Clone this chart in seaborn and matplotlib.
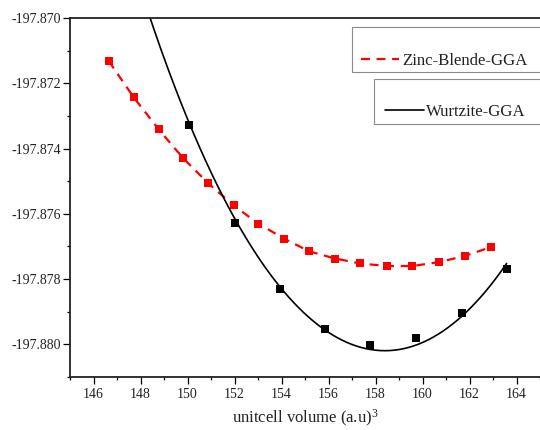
import matplotlib
matplotlib.use("Agg")
import matplotlib.pyplot as plt
from matplotlib.patches import Rectangle
from matplotlib.ticker import FixedLocator, FormatStrFormatter
import seaborn as sns
import numpy as np
import pandas as pd

# Zinc-blende GGA total energies
zb_volume = [146.65, 147.71, 148.77, 149.82, 150.89, 151.96, 153.01, 154.11,
             155.18, 156.28, 157.34, 158.48, 159.57, 160.70, 161.81, 162.91]
zb_energy = [-197.87132, -197.87243, -197.87341, -197.87430, -197.87507,
             -197.87574, -197.87630, -197.87676, -197.87715, -197.87737,
             -197.87752, -197.87760, -197.87760, -197.87748, -197.87729,
             -197.87702]

# Wurtzite GGA total energies
wz_volume = [150.05, 152.02, 153.94, 155.85, 157.77, 159.72, 161.67, 163.58]
wz_energy = [-197.87329, -197.87629, -197.87831, -197.87954, -197.88001,
             -197.87979, -197.87903, -197.87770]

# Equation-of-state curve for wurtzite (sampled along the fitted curve)
wz_fit_volume = [148.37, 148.83, 149.40, 150.08, 150.82, 151.52, 152.09, 152.94,
                 153.94, 154.79, 155.85, 156.77, 157.77, 158.48, 159.33, 160.32,
                 161.67, 162.73, 163.58]
wz_fit_energy = [-197.87001, -197.87083, -197.87185, -197.87328, -197.87451,
                 -197.87548, -197.87625, -197.87727, -197.87827, -197.87890,
                 -197.87954, -197.87993, -197.88013, -197.88018, -197.88013,
                 -197.87988, -197.87911, -197.87834, -197.87752]

x_major = [146, 148, 150, 152, 154, 156, 158, 160, 162, 164]
x_minor = [145, 147, 149, 151, 153, 155, 157, 159, 161, 163, 165]
y_major = [-197.880, -197.878, -197.876, -197.874, -197.872, -197.870]
y_minor = [-197.881, -197.879, -197.877, -197.875, -197.873, -197.871]

zb = pd.DataFrame({"volume": zb_volume, "energy": zb_energy})
wz = pd.DataFrame({"volume": wz_volume, "energy": wz_energy})

# Smooth the sampled EOS curve with a low-order polynomial
v_arr = np.asarray(wz_fit_volume)
e_arr = np.asarray(wz_fit_energy)
v0 = v_arr.mean()
coef = np.polyfit(v_arr - v0, e_arr + 197.88, 4)
v_dense = np.linspace(v_arr[0] - 0.1, v_arr[-1], 300)
wz_fit = pd.DataFrame({"volume": v_dense,
                       "energy": np.polyval(coef, v_dense - v0) - 197.88})

sns.set_theme(style="ticks")
plt.rcParams["font.family"] = ["Liberation Serif", "DejaVu Serif"]
plt.rcParams["mathtext.fontset"] = "custom"
plt.rcParams["mathtext.rm"] = "Liberation Serif"
plt.rcParams["mathtext.it"] = "Liberation Serif:italic"

W, H = 540, 430
fig = plt.figure(figsize=(W / 100, H / 100), dpi=100)
ax = fig.add_axes([70 / W, 1 - 377 / H, 470 / W, 359 / H])

sns.lineplot(data=zb, x="volume", y="energy", ax=ax, color="#ff0000",
             linewidth=1.6, linestyle=(0, (4, 3)), estimator=None,
             label="Zinc-Blende-GGA", zorder=2)
sns.scatterplot(data=zb, x="volume", y="energy", ax=ax, color="#ff0000",
                marker="s", s=38, linewidth=0, legend=False, zorder=3)

sns.lineplot(data=wz_fit, x="volume", y="energy", ax=ax, color="black",
             linewidth=1.2, estimator=None, sort=False,
             label="Wurtzite-GGA", zorder=2)
sns.scatterplot(data=wz, x="volume", y="energy", ax=ax, color="black",
                marker="s", s=38, linewidth=0, legend=False, zorder=3)

ax.set_xlim(145, 165)
ax.set_ylim(-197.881, -197.870)

ax.xaxis.set_major_locator(FixedLocator(x_major))
ax.xaxis.set_minor_locator(FixedLocator(x_minor))
ax.yaxis.set_major_locator(FixedLocator(y_major))
ax.yaxis.set_minor_locator(FixedLocator(y_minor))
ax.yaxis.set_major_formatter(FormatStrFormatter("%.3f"))
ax.xaxis.set_major_formatter(FormatStrFormatter("%d"))

ax.tick_params(axis="both", which="major", direction="out", length=4.8,
               width=0.9, labelsize=10, color="black", labelcolor="#222222")
ax.tick_params(axis="both", which="minor", direction="out", length=2.4,
               width=0.9, color="black")
ax.tick_params(axis="y", which="major", pad=1.5)
ax.tick_params(axis="x", which="major", pad=3)

for side in ("left", "bottom", "top"):
    ax.spines[side].set_visible(True)
    ax.spines[side].set_linewidth(1.3)
    ax.spines[side].set_color("#222222")
ax.spines["right"].set_visible(False)

ax.set_ylabel("")
ax.set_xlabel("unitcell volume (a.u)$^{3}$", fontsize=12, color="#222222",
              labelpad=5)

# Two separate legend boxes, one per structure
ax.get_legend().remove()
line_zb, line_wz = ax.lines[0], ax.lines[1]

common = dict(loc="center left", fontsize=12.1, frameon=False,
              handlelength=2.3, handletextpad=0.15, borderpad=0,
              borderaxespad=0, bbox_transform=fig.transFigure)

leg1 = ax.legend([line_zb], ["Zinc-Blende-GGA"],
                 bbox_to_anchor=(360.7 / W, 1 - 61 / H), **common)
leg1.set_zorder(6)
ax.add_artist(leg1)
leg2 = ax.legend([line_wz], ["Wurtzite-GGA"],
                 bbox_to_anchor=(385 / W, 1 - 112 / H), **common)
leg2.set_zorder(6)

for leg in (leg1, leg2):
    for t in leg.get_texts():
        t.set_color("#222222")

# Legend frames
for (x0, y_top, y_bot) in ((351.7, 27.3, 72.3), (373.7, 79.3, 124.0)):
    ax.add_patch(Rectangle((x0 / W, 1 - y_bot / H), (W + 5 - x0) / W,
                           (y_bot - y_top) / H, transform=fig.transFigure,
                           facecolor="white", edgecolor="#8a8a8a",
                           linewidth=0.8, zorder=4, clip_on=False))

fig.savefig("out.png", dpi=100)
